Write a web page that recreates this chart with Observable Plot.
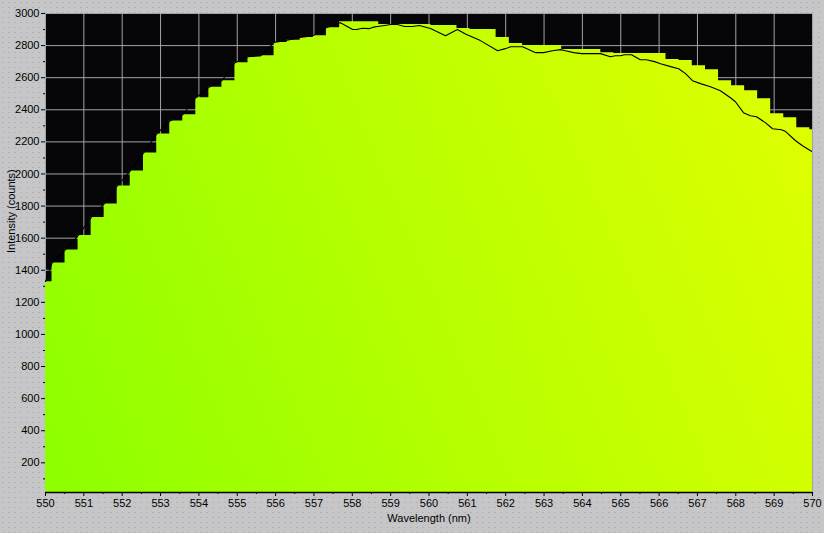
<!DOCTYPE html>
<html><head><meta charset="utf-8">
<script src="https://cdn.jsdelivr.net/npm/d3@7"></script>
<script src="https://cdn.jsdelivr.net/npm/@observablehq/plot@0.6"></script>
<style>
html,body{margin:0;padding:0;}
body{width:824px;height:533px;overflow:hidden;background-color:#c6c6c9;background-image:radial-gradient(circle,#b4b4b8 0.5px,transparent 0.8px);background-size:6px 5px;}
#chart svg{display:block}
</style></head><body><div id="chart"></div>
<script>
// Bar (step) series: wavelength centres (nm) and intensity (counts)
const wavelengths = [550.00,550.34,550.68,551.02,551.36,551.70,552.04,552.38,552.73,553.07,
  553.41,553.75,554.09,554.43,554.77,555.11,555.45,555.79,556.13,556.47,
  556.81,557.15,557.50,557.84,558.18,558.52,558.86,559.20,559.54,559.88,
  560.22,560.56,560.90,561.24,561.58,561.92,562.27,562.61,562.95,563.29,
  563.63,563.97,564.31,564.65,564.99,565.33,565.67,566.01,566.35,566.69,
  567.04,567.38,567.72,568.06,568.40,568.74,569.08,569.42,569.76,570.10];
const intensity = [1329,1445,1526,1616,1728,1813,1925,2019,2131,2249,
  2330,2369,2475,2540,2581,2693,2731,2737,2820,2833,
  2850,2862,2911,2949,2949,2949,2931,2931,2931,2931,
  2925,2925,2906,2900,2900,2850,2813,2800,2800,2800,
  2775,2775,2775,2756,2750,2750,2750,2750,2713,2707,
  2675,2650,2581,2550,2519,2469,2375,2350,2288,2275];

// Line series
const lineWavelengths = [550.00,550.17,550.51,550.85,551.19,551.53,551.87,552.21,552.56,552.90,
  553.24,553.58,553.92,554.26,554.60,554.94,555.28,555.62,555.96,556.30,
  556.64,556.98,557.32,557.69,558.01,558.11,558.27,558.45,558.55,558.66,
  558.84,559.00,559.18,559.36,559.57,559.75,560.04,560.43,560.74,560.95,
  561.34,561.79,561.99,562.13,562.44,562.78,562.99,563.22,563.43,563.56,
  563.77,563.98,564.47,564.73,564.86,564.99,565.10,565.28,565.51,565.67,
  565.88,566.04,566.30,566.51,566.69,566.87,567.08,567.34,567.60,567.86,
  567.99,568.20,568.38,568.54,568.77,568.96,569.19,569.30,569.56,569.74,
  569.95,570.00];
const lineIntensity = [1330,1445,1526,1616,1728,1813,1925,2019,2131,2249,
  2330,2369,2475,2540,2581,2693,2731,2737,2820,2833,
  2850,2862,2911,2943,2900,2900,2908,2906,2915,2919,
  2925,2931,2931,2919,2919,2925,2906,2862,2900,2872,
  2831,2768,2781,2793,2793,2756,2756,2768,2775,2768,
  2756,2750,2750,2731,2737,2737,2743,2743,2712,2712,
  2700,2687,2669,2656,2625,2581,2563,2544,2519,2475,
  2450,2382,2363,2357,2320,2282,2276,2264,2207,2176,
  2145,2139];

const xTicks = [550,551,552,553,554,555,556,557,558,559,560,561,562,563,564,565,566,567,568,569,570];
const xMinorTicks = [550.5,551.5,552.5,553.5,554.5,555.5,556.5,557.5,558.5,559.5,560.5,561.5,562.5,563.5,564.5,565.5,566.5,567.5,568.5,569.5];
const yTicks = [200,400,600,800,1000,1200,1400,1600,1800,2000,2200,2400,2600,2800,3000];
const yMinorTicks = [100,300,500,700,900,1100,1300,1500,1700,1900,2100,2300,2500,2700,2900];
const xTitle = "Wavelength (nm)";
const yTitle = "Intensity (counts)";

const bars = wavelengths.map((w, i) => ({w, v: intensity[i]}));
const line = lineWavelengths.map((w, i) => ({w, v: lineIntensity[i]}));
const yMin = 15;

const font = "'Liberation Sans', Arial, sans-serif";
const chart = Plot.plot({
  width: 824, height: 533,
  marginLeft: 45, marginRight: 12, marginTop: 13, marginBottom: 41,
  style: {background: "transparent", fontFamily: font, fontSize: "11px", color: "#000"},
  x: {domain: [550, 570]},
  y: {domain: [yMin, 3000]},
  marks: [
    Plot.frame({fill: "#060609", stroke: null}),
    Plot.gridX(xTicks, {stroke: "#a4a4a8", strokeOpacity: 1}),
    Plot.gridY(yTicks, {stroke: "#a4a4a8", strokeOpacity: 1}),
    Plot.areaY(bars, {x: "w", y: "v", curve: "step", fill: "url(#specGrad)", clip: "frame"}),
    Plot.lineY(line, {x: "w", y: "v", stroke: "#000", strokeWidth: 1.1, clip: "frame"}),
    Plot.ruleY([yMin], {stroke: "#000", strokeWidth: 1.5}),
    Plot.axisX(xTicks, {tickSize: 4, tickPadding: 3, label: null, fontSize: 11, tickFormat: d => String(d)}),
    Plot.axisX(xMinorTicks, {tickSize: 2, text: null, label: null}),
    Plot.axisY(yTicks, {tickSize: 4, tickPadding: 2, label: null, fontSize: 11, tickFormat: d => String(d)}),
    Plot.axisY(yMinorTicks, {tickSize: 2, text: null, label: null}),
    Plot.text([xTitle], {frameAnchor: "bottom", dy: 26, lineAnchor: "middle", fontSize: 11}),
    Plot.text([yTitle], {frameAnchor: "left", dx: -34, rotate: -90, lineAnchor: "middle", fontSize: 11})
  ]
});

// horizontal spectral gradient for the filled steps
const sx = chart.scale("x"), sy = chart.scale("y");
const defs = d3.select(chart).insert("defs", ":first-child");
const grad = defs.append("linearGradient").attr("id", "specGrad")
  .attr("gradientUnits", "userSpaceOnUse")
  .attr("x1", sx.apply(550)).attr("y1", sy.apply(yMin))
  .attr("x2", sx.apply(570)).attr("y2", sy.apply(2000));
grad.append("stop").attr("offset", "0%").attr("stop-color", "#8cff00");
grad.append("stop").attr("offset", "50%").attr("stop-color", "#b6ff00");
grad.append("stop").attr("offset", "100%").attr("stop-color", "#dcff00");

document.getElementById("chart").append(chart);
</script></body></html>
